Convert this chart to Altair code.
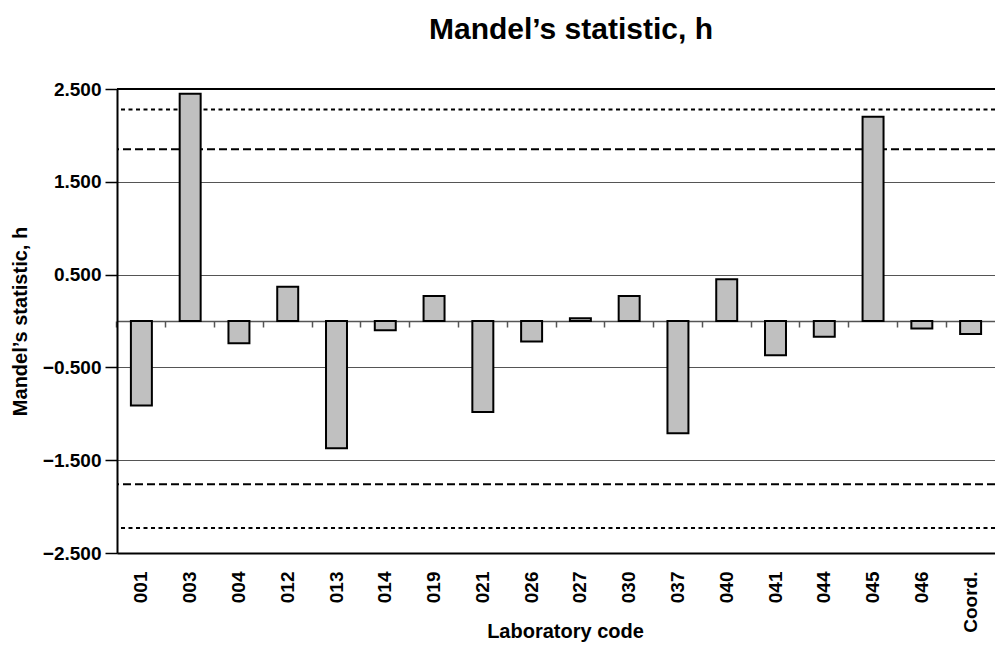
import altair as alt
import pandas as pd

# ---- data ----
labs = ["001", "003", "004", "012", "013", "014", "019", "021", "026",
        "027", "030", "037", "040", "041", "044", "045", "046", "Coord."]
h_values = [-0.91, 2.45, -0.24, 0.37, -1.37, -0.10, 0.27, -0.98, -0.22,
            0.03, 0.27, -1.21, 0.45, -0.37, -0.17, 2.20, -0.08, -0.14]
limit_dashed = [1.85, -1.76]   # 5 % indicator lines
limit_dotted = [2.28, -2.23]   # 1 % indicator lines
top_border = [2.5]
y_ticks = [-2.5, -1.5, -0.5, 0.5, 1.5, 2.5]

FONT = "Liberation Sans"
W, H = 878, 464
P_INNER = 0.57

df = pd.DataFrame({"lab": labs, "h": h_values})
dashed_df = pd.DataFrame({"v": limit_dashed})
dotted_df = pd.DataFrame({"v": limit_dotted})
top_df = pd.DataFrame({"v": top_border})

xscale = alt.Scale(domain=labs, paddingInner=P_INNER, paddingOuter=P_INNER / 2)
yscale = alt.Scale(domain=[-2.5, 2.5], nice=False, zero=False)

yaxis = alt.Axis(values=y_ticks, format=".3f", grid=True,
                 gridColor="#555555", gridWidth=1,
                 domainColor="black", domainWidth=2,
                 tickColor="black", tickSize=12, tickWidth=1.5,
                 labelPadding=4, labelFont=FONT, labelFontSize=19,
                 labelFontWeight="bold", labelColor="black",
                 title="Mandel’s statistic, h", titleFont=FONT,
                 titleFontSize=20, titleFontWeight="bold", titleColor="black",
                 titleX=-97, titleY=H / 2, titleAngle=-90,
                 titleBaseline="middle", titleAlign="center")

bars = alt.Chart(df).mark_bar(fill="#c0c0c0", stroke="black", strokeWidth=2).encode(
    x=alt.X("lab:N", sort=labs, scale=xscale,
            axis=alt.Axis(orient="bottom", title="Laboratory code", labelAngle=-90,
                          labelPadding=18, ticks=False, grid=False,
                          domainColor="black", domainWidth=2,
                          labelFont=FONT, labelFontSize=19, labelFontWeight="bold",
                          labelColor="black",
                          titleFont=FONT, titleFontSize=20, titleFontWeight="bold",
                          titleColor="black", titleX=448, titleY=84,
                          titleBaseline="alphabetic", titleAlign="center")),
    y=alt.Y("h:Q", scale=yscale, axis=yaxis),
)

# category axis drawn along h = 0, ticks between the bars
band_frac = -(P_INNER / 2) / (1 - P_INNER)
zero_axis = alt.Chart(df).mark_rule(opacity=0).encode(
    x=alt.X("lab:N", sort=labs, scale=xscale,
            axis=alt.Axis(orient="bottom", offset=-H / 2, labels=False, title=None,
                          ticks=True, bandPosition=band_frac, tickSize=6, tickWidth=1.5,
                          tickColor="#555555", domainColor="#555555", domainWidth=1.5,
                          grid=False, zindex=0)),
)

dashed = alt.Chart(dashed_df).mark_rule(color="black", strokeWidth=2, strokeDash=[8, 4]).encode(
    y=alt.Y("v:Q", scale=yscale, axis=yaxis)
)
dotted = alt.Chart(dotted_df).mark_rule(color="black", strokeWidth=2, strokeDash=[4, 3.5]).encode(
    y=alt.Y("v:Q", scale=yscale, axis=yaxis)
)
top_line = alt.Chart(top_df).mark_rule(color="black", strokeWidth=2).encode(
    y=alt.Y("v:Q", scale=yscale, axis=yaxis)
)

chart = alt.layer(zero_axis, dashed, dotted, top_line, bars).resolve_axis(
    x="independent"
).properties(
    width=W, height=H,
    title=alt.TitleParams("Mandel’s statistic, h", font=FONT, fontSize=30,
                          fontWeight="bold", color="black", anchor="middle",
                          frame="group", dx=15, offset=11, baseline="alphabetic"),
    padding={"left": 109, "top": 81, "right": 0, "bottom": 91},
    autosize=alt.AutoSizeParams(type="none"),
    background="white",
).configure_view(stroke=None)

chart.save("out.html", embed_options={"renderer": "svg", "actions": False})
